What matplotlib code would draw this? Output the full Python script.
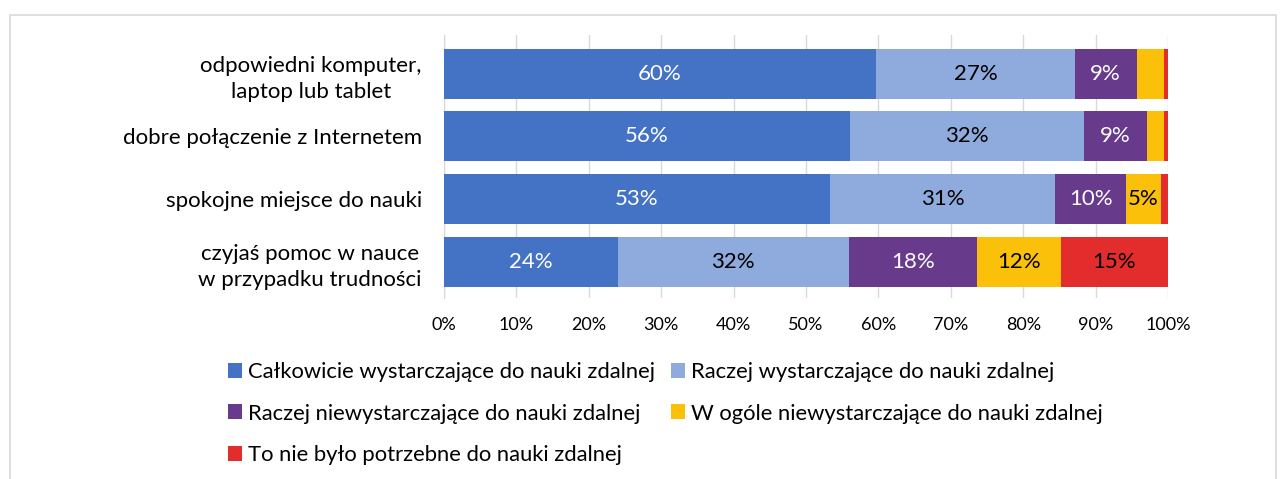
import numpy as np
import matplotlib
matplotlib.use("Agg")
import matplotlib.pyplot as plt
from matplotlib.patches import Rectangle, Patch
from matplotlib.ticker import PercentFormatter

plt.rcParams['font.family'] = ['Lato', 'DejaVu Sans']

categories = [
    "odpowiedni komputer,\nlaptop lub tablet",
    "dobre połączenie z Internetem",
    "spokojne miejsce do nauki",
    "czyjaś pomoc w nauce\nw przypadku trudności",
]
series_names = [
    "Całkowicie wystarczające do nauki zdalnej",
    "Raczej wystarczające do nauki zdalnej",
    "Raczej niewystarczające do nauki zdalnej",
    "W ogóle niewystarczające do nauki zdalnej",
    "To nie było potrzebne do nauki zdalnej",
]
# percentages per series, one value per category (top to bottom)
calkowicie = [59.7, 56.1, 53.3, 24.0]
raczej_wyst = [27.4, 32.3, 31.1, 31.9]
raczej_niewyst = [8.6, 8.7, 9.8, 17.7]
w_ogole = [3.7, 2.3, 4.8, 11.6]
niepotrzebne = [0.6, 0.6, 1.0, 14.8]

colors = ["#4472C4", "#8FAADC", "#673A8C", "#FBC00A", "#E32D2D"]
label_colors = ["white", "black", "white", "black", "black"]

series = [calkowicie, raczej_wyst, raczej_niewyst, w_ogole, niepotrzebne]

W, H = 1284, 479
fig = plt.figure(figsize=(W / 100, H / 100), dpi=100)

# outer light frame
fig.patches.append(Rectangle((10 / W, -0.05), 1266 / W, 1.05 - 15 / H,
                             transform=fig.transFigure, fill=False,
                             edgecolor="#D9D9D9", linewidth=1.2))

ax = fig.add_axes([444 / W, 1 - 298 / H, 724 / W, 263 / H])

y = np.arange(len(categories))
left = np.zeros(len(categories))
for vals, col, lc in zip(series, colors, label_colors):
    vals = np.array(vals)
    ax.barh(y, vals, left=left, height=0.8, color=col, zorder=3)
    for yi, v, l0 in zip(y, vals, left):
        if v >= 4.5:
            ax.text(l0 + v / 2, yi, f"{round(v):.0f}%", ha="center", va="center",
                    color=lc, fontsize=16, zorder=4)
    left += vals

ax.set_xlim(0, 100)
ax.set_ylim(3.58, -0.62)
ax.set_yticks(y)
ax.set_yticklabels(categories, fontsize=16, ha="right", multialignment="center",
                   linespacing=1.38)
ax.set_xticks(np.arange(0, 101, 10))
ax.xaxis.set_major_formatter(PercentFormatter(decimals=0))
ax.tick_params(axis="x", length=0, labelsize=13, pad=14)
ax.tick_params(axis="y", length=0, pad=16)
ax.grid(axis="x", color="#D9D9D9", linewidth=1, zorder=0)
for s in ["top", "right", "bottom"]:
    ax.spines[s].set_visible(False)
ax.spines["left"].set_color("#D9D9D9")

handles = [Patch(facecolor=c, edgecolor="none") for c in colors]
order = [0, 2, 4, 1, 3]
fig.legend([handles[i] for i in order], [series_names[i] for i in order],
           loc="upper left", bbox_to_anchor=(228 / W, 1 - 362 / H), ncol=2,
           frameon=False, fontsize=15.8, handlelength=0.65, handleheight=0.65,
           handletextpad=0.28, columnspacing=0.7, labelspacing=0.98,
           borderpad=0, borderaxespad=0)

fig.savefig("out.png", dpi=100)
